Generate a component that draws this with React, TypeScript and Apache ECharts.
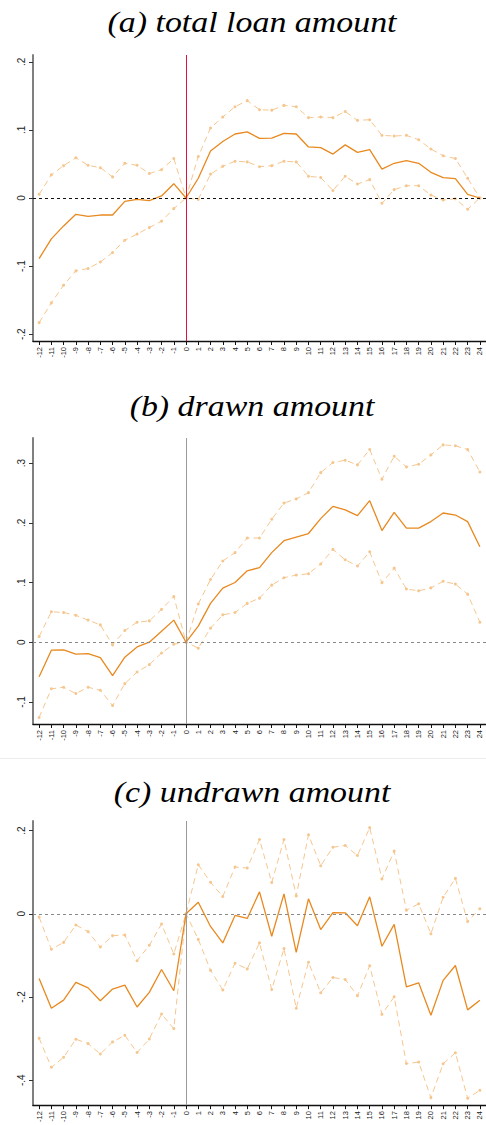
import React, { useEffect, useRef } from "react";
import * as echarts from "echarts";

const periods = ["-12","-11","-10","-9","-8","-7","-6","-5","-4","-3","-2","-1","0","1","2","3","4","5","6","7","8","9","10","11","12","13","14","15","16","17","18","19","20","21","22","23","24"];

const titles = ["(a) total loan amount", "(b) drawn amount", "(c) undrawn amount"];

const aPoint = [-0.089,-0.060,-0.041,-0.024,-0.027,-0.025,-0.025,-0.005,-0.002,-0.004,0.003,0.021,0,0.029,0.069,0.083,0.094,0.097,0.0875,0.088,0.095,0.094,0.075,0.074,0.0645,0.078,0.067,0.071,0.0425,0.051,0.055,0.051,0.0377,0.030,0.0285,0.0054,0];
const aUpper = [0.0054,0.034,0.0475,0.059,0.048,0.0445,0.031,0.051,0.048,0.036,0.0415,0.058,0,0.061,0.1027,0.119,0.134,0.143,0.1296,0.129,0.136,0.134,0.118,0.119,0.118,0.127,0.114,0.115,0.092,0.091,0.092,0.0856,0.072,0.062,0.058,0.029,0];
const aLower = [-0.183,-0.154,-0.128,-0.107,-0.1035,-0.094,-0.080,-0.062,-0.053,-0.0435,-0.034,-0.0156,0,-0.002,0.035,0.0465,0.054,0.053,0.046,0.0475,0.054,0.053,0.032,0.030,0.011,0.032,0.0205,0.027,-0.0078,0.0123,0.018,0.018,0.0044,-0.003,-0.001,-0.0166,0];

const bPoint = [-0.0577,-0.0134,-0.013,-0.020,-0.019,-0.026,-0.056,-0.025,-0.008,0.0,0.0185,0.037,0,0.027,0.065,0.0906,0.100,0.1196,0.125,0.150,0.170,0.176,0.182,0.207,0.2275,0.2215,0.212,0.237,0.187,0.2175,0.191,0.191,0.202,0.2164,0.213,0.202,0.160];
const bUpper = [0.0094,0.051,0.0497,0.045,0.037,0.029,-0.0045,0.0195,0.0335,0.0357,0.055,0.0765,0,0.064,0.105,0.136,0.150,0.1745,0.1745,0.206,0.233,0.240,0.2505,0.284,0.301,0.3047,0.297,0.3227,0.273,0.3114,0.2936,0.298,0.3137,0.3305,0.329,0.3227,0.285];
const bLower = [-0.126,-0.078,-0.0755,-0.086,-0.0755,-0.0806,-0.106,-0.0694,-0.050,-0.0376,-0.018,-0.0034,0,-0.010,0.0235,0.0458,0.0497,0.065,0.0738,0.0956,0.108,0.1124,0.1146,0.131,0.1554,0.138,0.1275,0.1515,0.0995,0.124,0.089,0.086,0.091,0.102,0.0973,0.0805,0.0335];

const cPoint = [-0.1555,-0.227,-0.2075,-0.165,-0.178,-0.209,-0.181,-0.1715,-0.224,-0.189,-0.134,-0.185,0,0.0278,-0.0304,-0.070,-0.004,-0.0112,0.0526,-0.054,0.048,-0.0926,0.036,-0.038,0.003,0.0024,-0.0287,0.0407,-0.078,-0.0256,-0.1756,-0.166,-0.244,-0.160,-0.1244,-0.231,-0.208];
const cUpper = [-0.008,-0.0854,-0.0687,-0.027,-0.043,-0.080,-0.0526,-0.051,-0.113,-0.0758,-0.0248,-0.0965,0,0.118,0.0756,0.0414,0.1124,0.110,0.1785,0.075,0.1785,0.043,0.1897,0.1156,0.160,0.164,0.140,0.207,0.0837,0.1507,0.0086,0.024,-0.048,0.0397,0.085,-0.0184,0.012];
const cLower = [-0.299,-0.369,-0.345,-0.3014,-0.312,-0.337,-0.308,-0.292,-0.3335,-0.301,-0.241,-0.276,0,-0.0615,-0.136,-0.183,-0.119,-0.1325,-0.070,-0.182,-0.0837,-0.227,-0.1165,-0.190,-0.153,-0.158,-0.197,-0.125,-0.2417,-0.1995,-0.360,-0.3565,-0.442,-0.3605,-0.334,-0.4435,-0.4244];

const aTicks = [-0.2, -0.1, 0, 0.1, 0.2];
const bTicks = [-0.1, 0, 0.1, 0.2, 0.3];
const cTicks = [-0.4, -0.2, 0, 0.2];

const panels = [
  { point: aPoint, upper: aUpper, lower: aLower, ticks: aTicks, min: -0.21, max: 0.21, top: 55, height: 286, titleY: 22, vColor: "#dc143c", hColor: "#111111", hWidth: 1.2 },
  { point: bPoint, upper: bUpper, lower: bLower, ticks: bTicks, min: -0.137, max: 0.342, top: 438, height: 286, titleY: 406, vColor: "#9a9a9a", hColor: "#8a8a8a", hWidth: 1 },
  { point: cPoint, upper: cUpper, lower: cLower, ticks: cTicks, min: -0.46, max: 0.223, top: 821, height: 286, titleY: 792, vColor: "#9a9a9a", hColor: "#8a8a8a", hWidth: 1 },
];

const solidColor = "#e8891f";
const ciColor = "#f6c68f";

function fmt(v: number): string {
  const r = Math.round(v * 10) / 10;
  if (r === 0) return "0";
  return String(r).replace(/^(-?)0\./, "$1.");
}

export default function App() {
  const ref = useRef<HTMLDivElement>(null);
  useEffect(() => {
    if (!ref.current) return;
    const chart = echarts.init(ref.current, null, { renderer: "svg" });
    const grid: any[] = [];
    const xAxis: any[] = [];
    const yAxis: any[] = [];
    const series: any[] = [];
    const graphic: any[] = [];
    panels.forEach((p, i) => {
      grid.push({ left: 33, top: p.top, width: 454, height: p.height, containLabel: false });
      xAxis.push({
        type: "category",
        gridIndex: i,
        data: periods,
        boundaryGap: true,
        axisLine: { show: true, onZero: false, lineStyle: { color: "#111", width: 1.3 } },
        axisTick: { show: true, alignWithLabel: true, length: 4, lineStyle: { color: "#111", width: 1 } },
        axisLabel: { rotate: 90, fontSize: 7.5, color: "#222", margin: 6, interval: 0, fontFamily: "Liberation Sans" },
        splitLine: { show: false },
      });
      yAxis.push({
        type: "value",
        gridIndex: i,
        min: p.min,
        max: p.max,
        axisLine: { show: true, onZero: false, lineStyle: { color: "#808080", width: 2 } },
        axisTick: { show: true, length: 4, customValues: p.ticks, lineStyle: { color: "#333", width: 1 } },
        axisLabel: { rotate: 90, fontSize: 10, color: "#222", margin: 7, customValues: p.ticks, formatter: (v: number) => fmt(v), fontFamily: "Liberation Sans" },
        splitLine: { show: false },
      });
      series.push({
        type: "line",
        xAxisIndex: i,
        yAxisIndex: i,
        data: p.upper,
        symbol: "circle",
        symbolSize: 3,
        showSymbol: true,
        itemStyle: { color: ciColor },
        lineStyle: { color: ciColor, width: 1, type: [6, 4] },
        z: 3,
      });
      series.push({
        type: "line",
        xAxisIndex: i,
        yAxisIndex: i,
        data: p.lower,
        symbol: "circle",
        symbolSize: 3,
        showSymbol: true,
        itemStyle: { color: ciColor },
        lineStyle: { color: ciColor, width: 1, type: [6, 4] },
        z: 3,
      });
      series.push({
        type: "line",
        xAxisIndex: i,
        yAxisIndex: i,
        data: p.point,
        showSymbol: false,
        symbol: "none",
        lineStyle: { color: solidColor, width: 1.3 },
        z: 4,
        markLine: {
          silent: true,
          symbol: "none",
          label: { show: false },
          animation: false,
          data: [
            { yAxis: 0, lineStyle: { color: p.hColor, width: p.hWidth, type: [3, 3] } },
            { xAxis: "0", lineStyle: { color: p.vColor, width: 1, type: "solid" } },
          ],
        },
      });
      graphic.push({
        type: "text",
        x: 252,
        y: p.titleY,
        scaleX: 1.13,
        style: {
          text: titles[i],
          fontFamily: "Liberation Serif",
          fontStyle: "italic",
          fontWeight: "normal",
          fontSize: 30,
          fill: "#000",
          textAlign: "center",
          textVerticalAlign: "middle",
        },
      });
    });
    graphic.push({
      type: "rect",
      shape: { x: 0, y: 758, width: 486, height: 1 },
      style: { fill: "#ececec" },
    });
    chart.setOption({
      animation: false,
      backgroundColor: "#ffffff",
      grid,
      xAxis,
      yAxis,
      series,
      graphic,
    });
    return () => chart.dispose();
  }, []);
  return <div ref={ref} style={{ position: "absolute", left: 0, top: 0, width: 486, height: 1125 }} />;
}
